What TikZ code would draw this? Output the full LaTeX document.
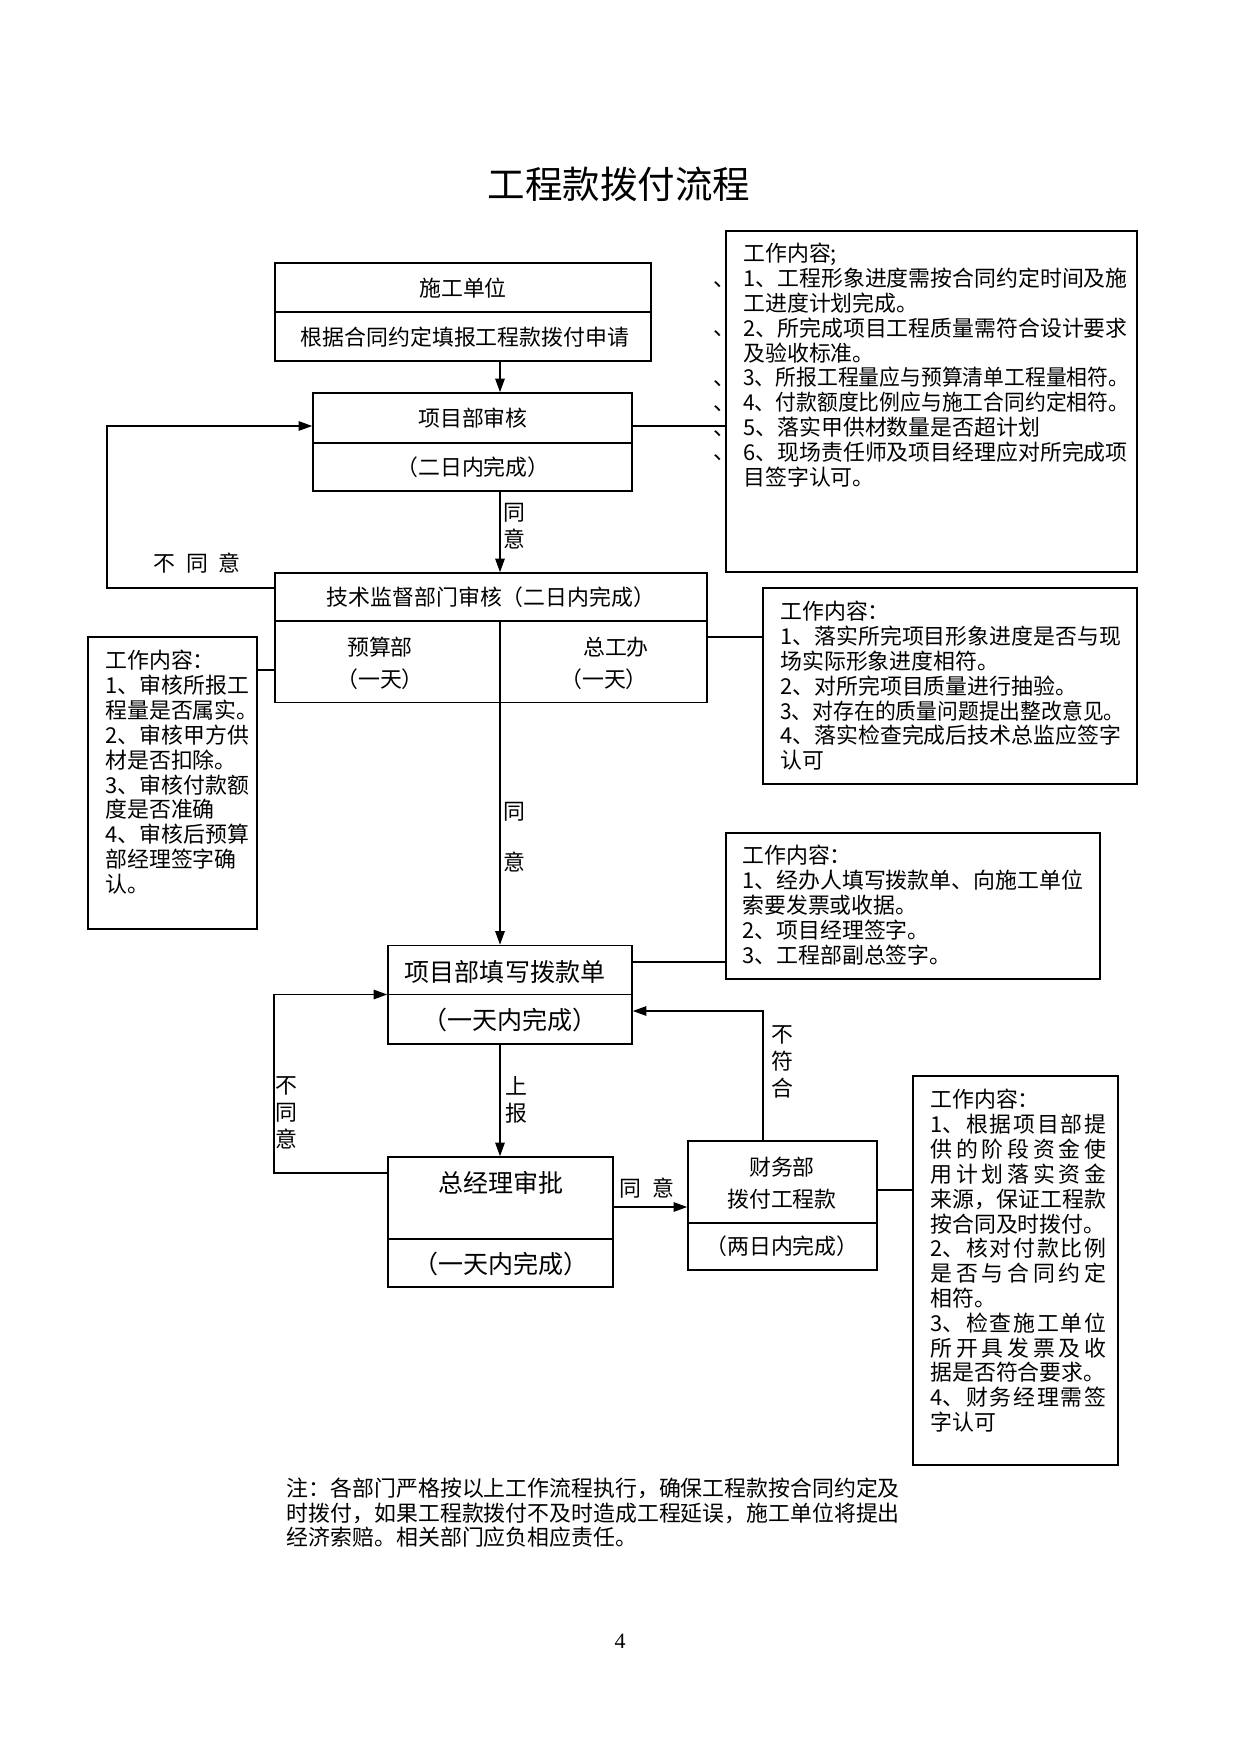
\documentclass[tikz,border=0pt]{standalone}
\usepackage{fontspec}
\usepackage{graphicx}
\setmainfont{Noto Sans CJK SC}
\newfontfamily\latinserif{Liberation Serif}
\usetikzlibrary{arrows.meta,fit}
\newcommand\fsn{\fontsize{10.5}{11.9}\selectfont}
\newcommand\fsl{\fontsize{12}{14}\selectfont}
\newcommand\fst{\fontsize{18}{22}\selectfont}
\newcommand\sx[1]{\scalebox{0.95}[1]{#1}}
\begin{document}
\begin{tikzpicture}[x=0.4797pt,y=-0.4797pt,
  ln/.style={line width=0.75pt},
  arr/.style={line width=0.75pt,-{Triangle[length=6.5pt,width=4.5pt]}},
  box/.style={draw,line width=0.75pt,inner sep=0pt},
  txt/.style={inner sep=0pt,anchor=north west,align=left,font=\fsn},
  lab/.style={inner sep=0pt,font=\fsn},
  vlab/.style={inner sep=0pt,align=center,font=\fontsize{10.5}{13}\selectfont},
  dun/.style={inner sep=0pt,anchor=base west,font=\fsn}]
\fill[white] (0,0) rectangle (1241,1754);
\useasboundingbox (0,0) rectangle (1241,1754);
\coordinate (ax) at (500,0);

\node[lab,font=\fst] (title) at (619,184) {工程款拨付流程};

% 施工单位
\node[box,fit={(275,263)(651,361)}] (sg) {};
\draw[ln] (sg.west |- 0,312) -- (sg.east |- 0,312);
\node[lab] (sgA) at (463,288) {施工单位};
\node[lab] (sgB) at (465,337) {根据合同约定填报工程款拨付申请};

% 项目部审核
\node[box,fit={(313,393)(632,491)}] (xm) {};
\draw[ln] (xm.west |- 0,443) -- (xm.east |- 0,443);
\node[lab] (xmA) at (473,418) {项目部审核};
\node[lab] (xmB) at (473,467) {（二日内完成）};
\draw[arr] (sg.south -| ax) -- (xm.north -| ax);

% right box 1
\node[box,fit={(726,231)(1137,572)}] (r1) {};
\node[txt] (r1t) at (743,243) {工作内容;\\1、工程形象进度需按合同约定时间及施\\工进度计划完成。\\2、所完成项目工程质量需符合设计要求\\及验收标准。\\\sx{3、所报工程量应与预算清单工程量相符。}\\\sx{4、付款额度比例应与施工合同约定相符。}\\5、落实甲供材数量是否超计划\\6、现场责任师及项目经理应对所完成项\\目签字认可。};
\node[dun] (d1) at (713,286) {、};
\node[dun] (d2) at (713,335) {、};
\node[dun] (d3) at (713,385) {、};
\node[dun] (d4) at (713,410) {、};
\node[dun] (d5) at (713,435) {、};
\node[dun] (d6) at (713,459) {、};
\draw[ln] (xm.east |- 0,426) -- (r1.west |- 0,426);

% 技术监督
\node[box,fit={(275,573)(707,702.5)}] (tj) {};
\draw[ln] (tj.west |- 0,621) -- (tj.east |- 0,621);
\draw[ln] (ax |- 0,621) -- (ax |- tj.south);
\node[lab] (tjA) at (491,597) {技术监督部门审核（二日内完成）};
\node[lab] (ys) at (380,647) {预算部};
\node[lab] (ysB) at (380,679) {（一天）};
\node[lab] (zg) at (616,647) {总工办};
\node[lab] (zgB) at (604,679) {（一天）};
\draw[arr] (xm.south -| ax) -- (tj.north -| ax);
\node[vlab] (ty1) at (514,526.5) {同\\意};
\draw[arr] (tj.west |- 0,588) -- ++(-167,0) |- (xm.west |- 0,426);
\node[lab] (bty1) at (197,563) {不\hspace{0.5em}同\hspace{0.5em}意};

% left box
\node[box,fit={(88,637)(257,929)}] (lb) {};
\draw[ln] (tj.west |- 0,670) -- (lb.east |- 0,670);
\node[txt] (lbt) at (105,650) {工作内容：\\1、审核所报工\\程量是否属实。\\2、审核甲方供\\材是否扣除。\\3、审核付款额\\度是否准确\\4、审核后预算\\部经理签字确\\认。};

% right box 2
\node[box,fit={(763,588)(1137,784)}] (r2) {};
\draw[ln] (tj.east |- 0,637) -- (r2.west |- 0,637);
\node[txt] (r2t) at (780,601) {工作内容：\\1、落实所完项目形象进度是否与现\\场实际形象进度相符。\\2、对所完项目质量进行抽验。\\\sx{3、对存在的质量问题提出整改意见。}\\4、落实检查完成后技术总监应签字\\认可};

% 项目部填写拨款单
\node[box,fit={(388,945.5)(632,1044)}] (fk) {};
\draw[ln] (fk.west |- 0,994.5) -- (fk.east |- 0,994.5);
\node[lab,font=\fsl] (fkA) at (505,972) {项目部填写拨款单};
\node[lab,font=\fsl] (fkB) at (510,1020) {（一天内完成）};
\draw[arr] (tj.south -| ax) -- (fk.north -| ax);
\node[vlab,font=\fontsize{10.5}{24.5}\selectfont] (ty2) at (514,837) {同\\意};

% right box 3
\node[box,fit={(726,833)(1100,979)}] (r3) {};
\draw[ln] (fk.east |- 0,962) -- (r3.west |- 0,962);
\node[txt] (r3t) at (742,845) {工作内容：\\1、经办人填写拨款单、向施工单位\\索要发票或收据。\\2、项目经理签字。\\3、工程部副总签字。};

% 总经理审批
\node[box,fit={(388,1157)(613,1287)}] (gm) {};
\draw[ln] (gm.west |- 0,1239) -- (gm.east |- 0,1239);
\node[lab,font=\fsl] (gmA) at (501,1183) {总经理审批};
\node[lab,font=\fsl] (gmB) at (501,1264) {（一天内完成）};
\draw[arr] (fk.south -| ax) -- (gm.north -| ax);
\node[vlab] (sb) at (516,1099.5) {上\\报};
\draw[arr] (gm.west |- 0,1173) -- ++(-113,0) |- (fk.west |- 0,994.5);
\node[vlab] (bty2) at (286.5,1113) {不\\同\\意};

% 财务部
\node[box,fit={(688,1141)(877,1270)}] (cw) {};
\draw[ln] (cw.west |- 0,1223) -- (cw.east |- 0,1223);
\node[lab] (cwA) at (782,1167) {财务部};
\node[lab] (cwB) at (782,1199) {拨付工程款};
\node[lab] (cwC) at (782,1246) {（两日内完成）};
\draw[arr] (gm.east |- 0,1207) -- (cw.west |- 0,1207);
\node[lab] (ty3) at (647,1188.5) {同\hspace{0.5em}意};
\draw[arr] (cw.north -| 763,0) |- (fk.east |- 0,1011);
\node[vlab] (bfh) at (782,1062) {不\\符\\合};

% right box 4
\node[box,fit={(913,1076)(1118,1465)}] (r4) {};
\draw[ln] (cw.east |- 0,1190) -- (r4.west |- 0,1190);
\node[txt,text width=84.5pt,align=justify] (r4t) at (930,1089) {\parindent=0pt\XeTeXlinebreaklocale "zh"\XeTeXlinebreakskip=0pt plus 3pt
工作内容：\\
1、根据项目部提\linebreak
供的阶段资金使\linebreak
用计划落实资金\linebreak
来源，保证工程款\linebreak
按合同及时拨付。\\
2、核对付款比例\linebreak
是否与合同约定\linebreak
相符。\\
3、检查施工单位\linebreak
所开具发票及收\linebreak
据是否符合要求。\\
4、财务经理需签\linebreak
字认可};

% note
\node[txt,font=\fontsize{10.5}{11.6}\selectfont] (note) at (286.5,1478) {注：各部门严格按以上工作流程执行，确保工程款按合同约定及\\时拨付，如果工程款拨付不及时造成工程延误，施工单位将提出\\经济索赔。相关部门应负相应责任。};

\node[lab,font=\latinserif\fontsize{10.5}{12}\selectfont] (pg) at (620,1641) {4};
\end{tikzpicture}
\end{document}
